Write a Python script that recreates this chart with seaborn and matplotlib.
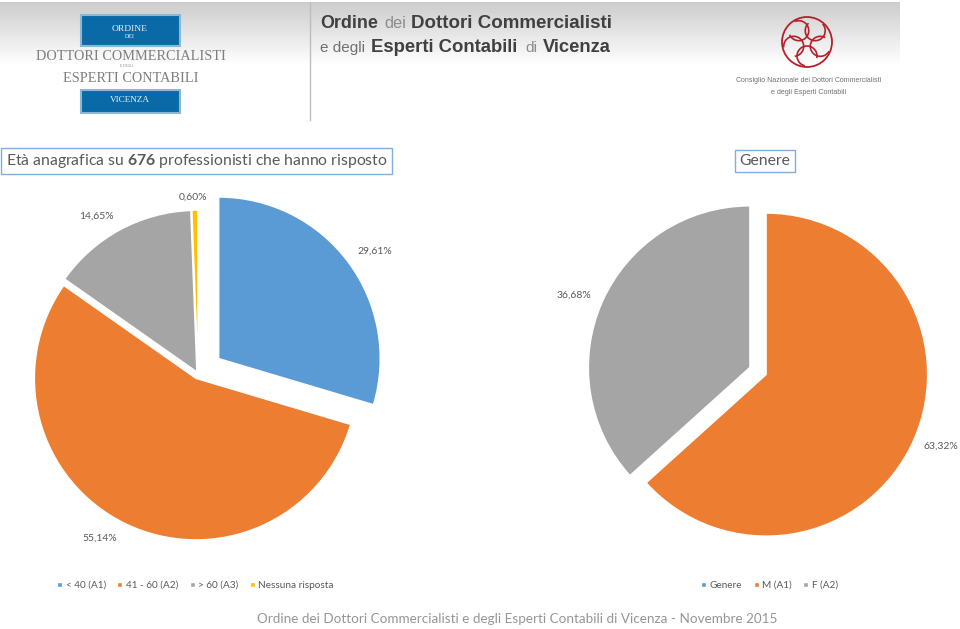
import numpy as np
import matplotlib
matplotlib.use("Agg")
import matplotlib.pyplot as plt
from matplotlib.patches import Rectangle, Circle, Arc
import seaborn as sns

# ---- data ----
age_labels = ["< 40 (A1)", "41 - 60 (A2)", "> 60 (A3)", "Nessuna risposta"]
age_values = [29.61, 55.14, 14.65, 0.60]
gender_labels = ["Genere", "M (A1)", "F (A2)"]
gender_values = [0.0, 63.32, 36.68]

# ---- style ----
sns.set_theme(style="white")
plt.rcParams["font.family"] = ["Lato", "DejaVu Sans"]
plt.rcParams["mathtext.fontset"] = "custom"
plt.rcParams["mathtext.rm"] = "Lato"
plt.rcParams["mathtext.bf"] = "Lato:bold"
age_colors = ["#5B9BD5", "#ED7D31", "#A5A5A5", "#FFC000"]
gender_colors = ["#5B9BD5", "#ED7D31", "#A5A5A5"]
TXT = "#595959"
W, H = 960, 629
fig = plt.figure(figsize=(W / 100, H / 100), dpi=100, facecolor="white")
renderer = fig.canvas.get_renderer()


def pie_axes(cx, cy, half):
    return fig.add_axes([(cx - half) / W, 1 - (cy + half) / H, 2 * half / W, 2 * half / H])


def fmt(v):
    return f"{v:.2f}%".replace(".", ",")


# overlay in pixel coordinates, below the pies
ov = fig.add_axes([0, 0, 1, 1], zorder=0)
ov.set_axis_off()


def fit(s, x0, x1, y, color, **kw):
    """Left-aligned text whose font size makes it span x0..x1 pixels."""
    t = ov.text(x0, y, s, ha="left", va="center", color=color, fontsize=10, **kw)
    width = t.get_window_extent(renderer).width
    t.set_fontsize(10 * (x1 - x0) / width)
    return t


# banner gradient
grad = np.linspace(0, 1, 64)[:, None]
ov.imshow(0.80 + 0.20 * grad, cmap="gray", vmin=0, vmax=1, aspect="auto", extent=(0, 900, 66, 2))
ov.set_xlim(0, W)
ov.set_ylim(H, 0)
ov.plot([310, 310], [2, 120], color="#BDBDBD", lw=1)

# left logo
BLUE = "#0A6AA8"
SERIF = "Liberation Serif"
for (x, y, w, h) in [(81, 15, 99, 31), (81, 90, 99, 23)]:
    ov.add_patch(Rectangle((x, y), w, h, fc=BLUE, ec="#8FB8D0", lw=1.5))
fit("ORDINE", 112, 148, 29, "#E8F0F5", family=SERIF)
fit("DEI", 125, 135, 37, "#E8F0F5", family=SERIF)
fit("VICENZA", 110, 150, 100, "#E8F0F5", family=SERIF)
fit("DOTTORI COMMERCIALISTI", 36, 225, 56, "#7F7F7F", family=SERIF)
fit("E DEGLI", 120, 134, 66, "#7F7F7F", family=SERIF)
fit("ESPERTI CONTABILI", 63, 197, 78, "#7F7F7F", family=SERIF)

# header wordmark
HEAD = "Liberation Sans"
DARK, LIGHT = "#404040", "#8C8C8C"
fit("Ordine", 320, 378, 24, DARK, family=HEAD, fontweight="bold")
fit("dei", 384, 406, 24, LIGHT, family=HEAD)
fit("Dottori Commercialisti", 411, 612, 24, DARK, family=HEAD, fontweight="bold")
fit("e degli", 320, 365, 48, "#707070", family=HEAD)
fit("Esperti Contabili", 371, 518, 48, DARK, family=HEAD, fontweight="bold")
fit("di", 525, 537, 48, LIGHT, family=HEAD)
fit("Vicenza", 543, 611, 48, DARK, family=HEAD, fontweight="bold")

# seal
RED = "#B5202A"
ov.add_patch(Circle((807, 42), 25, fc="none", ec=RED, lw=1.3))
for a in np.arange(0, 360, 72):
    xa = 807 + 14 * np.cos(np.radians(a + 18))
    ya = 42 + 14 * np.sin(np.radians(a + 18))
    ov.add_patch(Arc((xa, ya), 20, 20, angle=a, theta1=30, theta2=300, ec=RED, lw=1.2))
fit("Consiglio Nazionale dei Dottori Commercialisti", 736, 881, 81, "#707070", family=HEAD)
fit("e degli Esperti Contabili", 771, 846, 92, "#707070", family=HEAD)

# boxed titles
box = dict(boxstyle="square,pad=0.28", fc="white", ec="#7FAFD8", lw=1)
ov.text(5.5, 161, r"Età anagrafica su $\mathbf{676}$ professionisti che hanno risposto", ha="left", va="center",
        color=TXT, fontsize=11.35, bbox=box)
ov.text(765, 161, "Genere", ha="center", va="center", color=TXT, fontsize=11.35, bbox=box)

# pies
LIM = 200 / 161.5
ax1 = pie_axes(198, 374, 200)
w1, _ = ax1.pie(age_values, colors=age_colors, startangle=90, counterclock=False,
                explode=[0.16, 0.03, 0.015, 0.015], radius=1)
ax1.set_xlim(-LIM, LIM)
ax1.set_ylim(-LIM, LIM)

ax2 = pie_axes(758, 371, 200)
w2, _ = ax2.pie(gender_values, colors=gender_colors, startangle=90, counterclock=False,
                explode=[0, 0.055, 0.055], radius=1)
ax2.set_xlim(-LIM, LIM)
ax2.set_ylim(-LIM, LIM)

# data labels
age_pos = [(375, 251), (100, 538), (96, 216), (193, 197)]
gender_pos = [(941, 446), (574, 295)]
for v, (x, y) in zip(age_values, age_pos):
    ov.text(x, y, fmt(v), ha="center", va="center", color=TXT, fontsize=7.5)
for v, (x, y) in zip(gender_values[1:], gender_pos):
    ov.text(x, y, fmt(v), ha="center", va="center", color=TXT, fontsize=7.5)

# legends
common = dict(frameon=False, handlelength=0.5, handleheight=0.5, handletextpad=0.35, columnspacing=1.15,
              fontsize=7.2, labelcolor=TXT, loc="center left", borderpad=0, borderaxespad=0)
ax1.legend(w1, age_labels, ncol=4, bbox_to_anchor=(57 / W, 1 - 585.5 / H), bbox_transform=fig.transFigure, **common)
ax2.legend(w2, gender_labels, ncol=3, bbox_to_anchor=(701 / W, 1 - 585.5 / H), bbox_transform=fig.transFigure, **common)

# footer
ov.text(517, 619, "Ordine dei Dottori Commercialisti e degli Esperti Contabili di Vicenza - Novembre 2015",
        ha="center", va="center", color="#969696", fontsize=9.75)

fig.savefig("out.png", dpi=100)
